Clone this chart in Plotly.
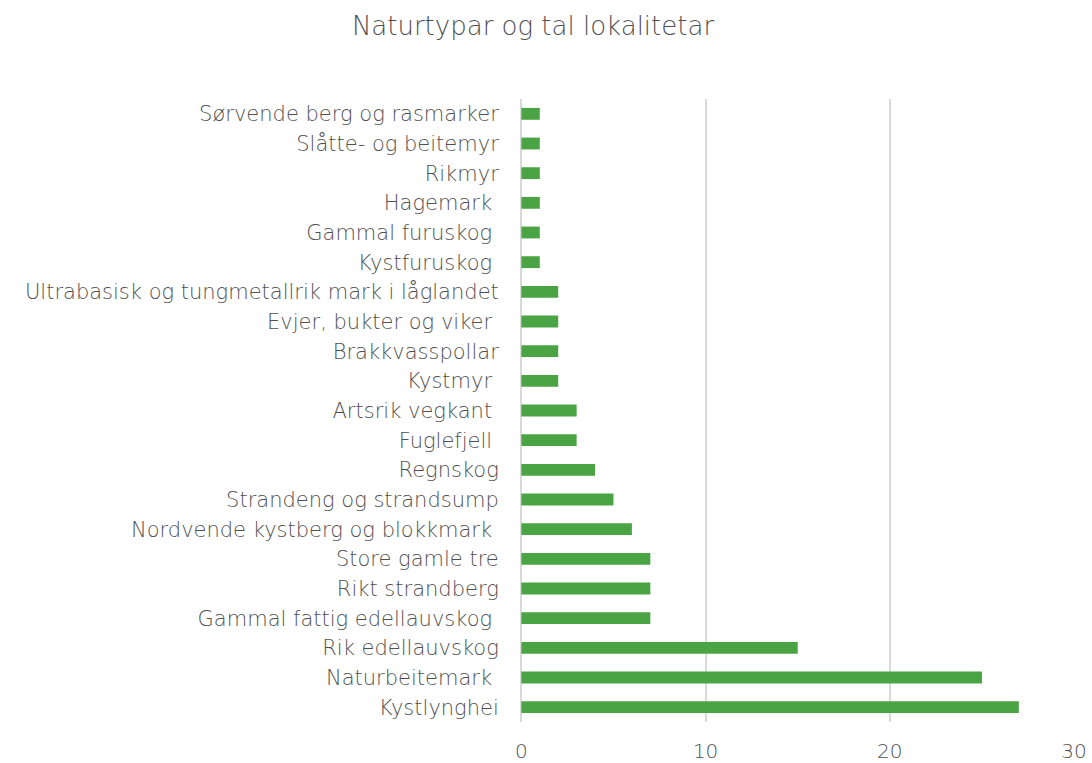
import plotly.graph_objects as go

categories = [
    "Sørvende berg og rasmarker",
    "Slåtte- og beitemyr",
    "Rikmyr",
    "Hagemark\u00a0",
    "Gammal furuskog\u00a0",
    "Kystfuruskog\u00a0",
    "Ultrabasisk og tungmetallrik mark i låglandet",
    "Evjer, bukter og viker\u00a0",
    "Brakkvasspollar",
    "Kystmyr\u00a0",
    "Artsrik vegkant\u00a0",
    "Fuglefjell\u00a0",
    "Regnskog",
    "Strandeng og strandsump",
    "Nordvende kystberg og blokkmark\u00a0",
    "Store gamle tre",
    "Rikt strandberg",
    "Gammal fattig edellauvskog\u00a0",
    "Rik edellauvskog",
    "Naturbeitemark\u00a0",
    "Kystlynghei",
]
values = [1, 1, 1, 1, 1, 1, 2, 2, 2, 2, 3, 3, 4, 5, 6, 7, 7, 7, 15, 25, 27]
x_ticks = [0, 10, 20, 30]

FONT = "DejaVu Sans"
GREY = "#505050"

fig = go.Figure(
    go.Bar(
        x=values,
        y=categories,
        orientation="h",
        marker=dict(color="#4aa443", line=dict(width=0)),
        hoverinfo="x+y",
    )
)

fig.update_layout(
    width=1092,
    height=763,
    paper_bgcolor="white",
    plot_bgcolor="white",
    margin=dict(l=521, r=17, t=99, b=41, autoexpand=False),
    bargap=0.6,
    title=dict(
        text="Naturtypar og tal lokalitetar",
        x=533 / 1092,
        xanchor="center",
        y=1 - 26 / 763,
        yanchor="middle",
        font=dict(family=FONT, size=26, color=GREY, weight=200),
    ),
    font=dict(family=FONT, color=GREY, weight=200),
    showlegend=False,
)

fig.update_xaxes(
    range=[-0.02, 30.05],
    tickvals=x_ticks,
    showgrid=True,
    gridcolor="#d9d9d9",
    gridwidth=1.5,
    zeroline=True,
    zerolinecolor="#d9d9d9",
    zerolinewidth=1.5,
    showline=False,
    ticks="outside",
    ticklen=11,
    tickcolor="rgba(0,0,0,0)",
    tickfont=dict(family=FONT, size=20, color=GREY, weight=200),
    automargin=False,
)
fig.update_yaxes(
    categoryorder="array",
    categoryarray=categories[::-1],
    range=[-0.5, len(categories) - 0.5],
    showgrid=False,
    zeroline=False,
    showline=False,
    ticks="outside",
    ticklen=17,
    tickcolor="rgba(0,0,0,0)",
    tickfont=dict(family=FONT, size=21, color=GREY, weight=200),
    automargin=False,
)

fig.write_html(
    "out.html",
    config={"displayModeBar": False},
    post_script="document.body.style.margin='0';document.body.style.overflow='hidden';",
)
